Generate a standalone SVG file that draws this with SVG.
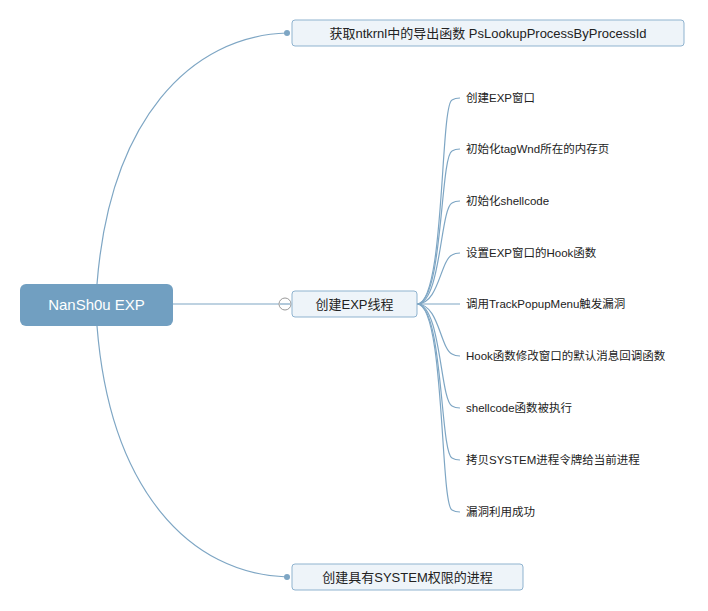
<svg xmlns="http://www.w3.org/2000/svg" width="708" height="611" viewBox="0 0 708 611">
<style>
.c{fill:none;stroke:#7ea6c4;stroke-width:1.2}
.box{fill:#eef4f9;stroke:#8fb3cf;stroke-width:1}
.t{font-family:"Liberation Sans","Noto Sans CJK SC",sans-serif;font-size:13px;fill:#222}
.s{font-family:"Liberation Sans","Noto Sans CJK SC",sans-serif;font-size:11.5px;fill:#222}
</style>
<rect width="708" height="611" fill="#fff"/>
<g id="connectors">
<path class="c" d="M97,284 C110,120 190,36 287,33"/>
<path class="c" d="M97,326 C110,490 190,574 287,577"/>
<circle cx="287" cy="33" r="3" fill="#7ea6c4"/>
<circle cx="287" cy="577" r="3" fill="#7ea6c4"/>
<path class="c" d="M173,304 H279"/>
<circle cx="285" cy="304" r="6" fill="#fff" stroke="#999"/>
<path class="c" d="M280,304 H290"/>
<path class="c" d="M417,304 C445,304 440,106 452,100 Q455,98 460,98"/>
<path class="c" d="M417,304 C443,304 440,157 452,151 Q455,149 460,149"/>
<path class="c" d="M417,304 C441,304 440,209 452,203 Q455,201 460,201"/>
<path class="c" d="M417,304 C439,304 440,261 452,255 Q455,253 460,253"/>
<path class="c" d="M417,304 H460"/>
<path class="c" d="M417,304 C439,304 440,348 452,354 Q455,356 460,356"/>
<path class="c" d="M417,304 C441,304 440,400 452,406 Q455,408 460,408"/>
<path class="c" d="M417,304 C443,304 440,452 452,458 Q455,460 460,460"/>
<path class="c" d="M417,304 C445,304 440,504 452,510 Q455,512 460,512"/>
</g>
<g id="root"><rect x="20" y="284" width="153" height="42" rx="6" fill="#719fc1"/><text x="96.5" y="310" text-anchor="middle" font-family="Liberation Sans,sans-serif" font-size="15" fill="#fff">NanSh0u EXP</text></g>
<g id="n1"><rect class="box" x="292" y="20" width="392" height="26" rx="3"/><text class="t" x="488" y="38" text-anchor="middle">获取ntkrnl中的导出函数 PsLookupProcessByProcessId</text></g>
<g id="n2"><rect class="box" x="292" y="291" width="125" height="26" rx="3"/><text class="t" x="354.5" y="309" text-anchor="middle">创建EXP线程</text></g>
<g id="n3"><rect class="box" x="292" y="564" width="231" height="26" rx="3"/><text class="t" x="407.5" y="582" text-anchor="middle">创建具有SYSTEM权限的进程</text></g>
<g id="c1"><text class="s" x="466" y="102">创建EXP窗口</text></g>
<g id="c2"><text class="s" x="466" y="153">初始化tagWnd所在的内存页</text></g>
<g id="c3"><text class="s" x="466" y="205">初始化shellcode</text></g>
<g id="c4"><text class="s" x="466" y="257">设置EXP窗口的Hook函数</text></g>
<g id="c5"><text class="s" x="466" y="308">调用TrackPopupMenu触发漏洞</text></g>
<g id="c6"><text class="s" x="466" y="360">Hook函数修改窗口的默认消息回调函数</text></g>
<g id="c7"><text class="s" x="466" y="412">shellcode函数被执行</text></g>
<g id="c8"><text class="s" x="466" y="464">拷贝SYSTEM进程令牌给当前进程</text></g>
<g id="c9"><text class="s" x="466" y="516">漏洞利用成功</text></g>
</svg>
